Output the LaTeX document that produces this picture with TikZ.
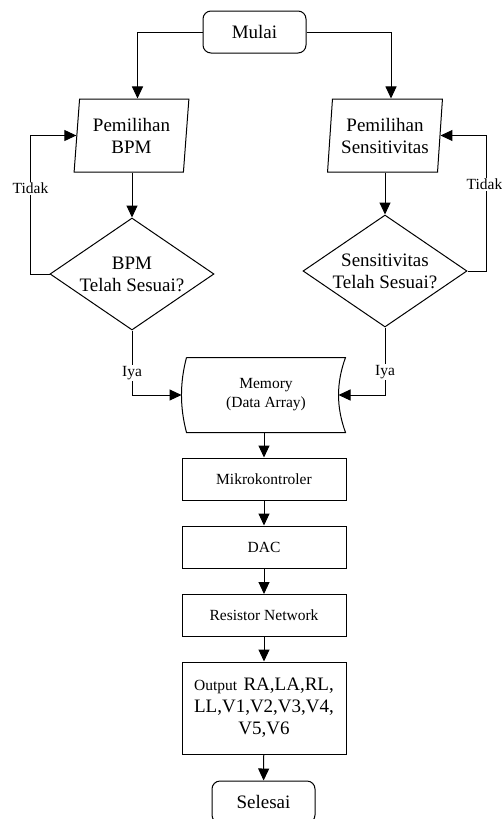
\documentclass[tikz,border=0pt]{standalone}
\usepackage{fontspec}
\setmainfont{Liberation Serif}
\usetikzlibrary{shapes.geometric,arrows.meta}

\begin{document}
\begin{tikzpicture}[x=1pt,y=-1pt,line width=1pt,
    >={Triangle[length=12pt,width=11pt]},
    big/.style={font=\fontsize{19}{22}\selectfont},
    small/.style={font=\fontsize{15.5}{19}\selectfont},
    term/.style={draw,rounded corners=8pt,minimum width=103pt,minimum height=42pt,big},
    io/.style={draw,trapezium,trapezium left angle=84,trapezium right angle=96,
      trapezium stretches=true,minimum width=115pt,minimum height=73pt,align=center,big},
    cek/.style={draw,diamond,aspect=1.45,inner sep=0pt,minimum width=164pt,minimum height=112pt,align=center,big},
    proc/.style={draw,minimum width=164pt,minimum height=42pt,align=center,small},
    lbl/.style={fill=white,inner sep=1pt,small}]
      \useasboundingbox (0,0) rectangle (501,819);
      \node[term] (mulai) at (254.5,32) {Mulai};
      \node[io] (bpm) at (131.5,135.5) {Pemilihan\\BPM};
      \node[io] (sens) at (385,135.5) {Pemilihan\\Sensitivitas};
      \node[cek] (cek1) at (132,274) {BPM\\Telah Sesuai?};
      \node[cek] (cek2) at (385,271) {Sensitivitas\\Telah Sesuai?};
      \node[minimum width=158pt,minimum height=74pt,align=center,small] (mem) at (266,395) {Memory\\(Data Array)};
      \draw (mem.north west) -- (mem.north east)
        .. controls ([xshift=-9.3pt,yshift=12pt]mem.east) and ([xshift=-9.3pt,yshift=-12pt]mem.east) .. (mem.south east)
        -- (mem.south west)
        .. controls ([xshift=-6.7pt,yshift=-12pt]mem.west) and ([xshift=-6.7pt,yshift=12pt]mem.west) .. (mem.north west);
      \node[proc] (mikro) at (264,479) {Mikrokontroler};
      \node[proc] (dac) at (264,547) {DAC};
      \node[proc] (rnet) at (264,615.5) {Resistor Network};
      \node[proc,minimum height=92pt,text width=150pt,big] (out) at (264,708)
        {{\fontsize{15.5}{19}\selectfont Output }RA,LA,RL,\\LL,V1,V2,V3,V4,\\V5,V6};
      \node[term] (selesai) at (263.5,802) {Selesai};

      \draw[->] (mulai.west) -| ([xshift=6pt]bpm.north);
      \draw[->] (mulai.east) -| ([xshift=6pt]sens.north);
      \draw[->] (bpm.south -| cek1.north) -- (cek1.north);
      \draw[->] (sens.south -| cek2.north) -- (cek2.north);
      \draw[->] (cek1.west) -- ++(-19,0) |- (bpm.west) node[lbl,pos=0.31] {Tidak};
      \draw[->] (cek2.east) -- ++(19,0) |- (sens.east) node[lbl,pos=0.32,xshift=-2pt] {Tidak};
      \draw[->] (cek1.south) |- ([xshift=-5pt]mem.west) node[lbl,pos=0.33] {Iya};
      \draw[->] (cek2.south) |- ([xshift=-7pt]mem.east) node[lbl,pos=0.33] {Iya};
      \draw[->] (mem.south -| mikro.north) -- (mikro.north);
      \draw[->] (mikro) -- (dac);
      \draw[->] (dac) -- (rnet);
      \draw[->] (rnet) -- (out);
      \draw[->] (out) -- (selesai);
\end{tikzpicture}
\end{document}
